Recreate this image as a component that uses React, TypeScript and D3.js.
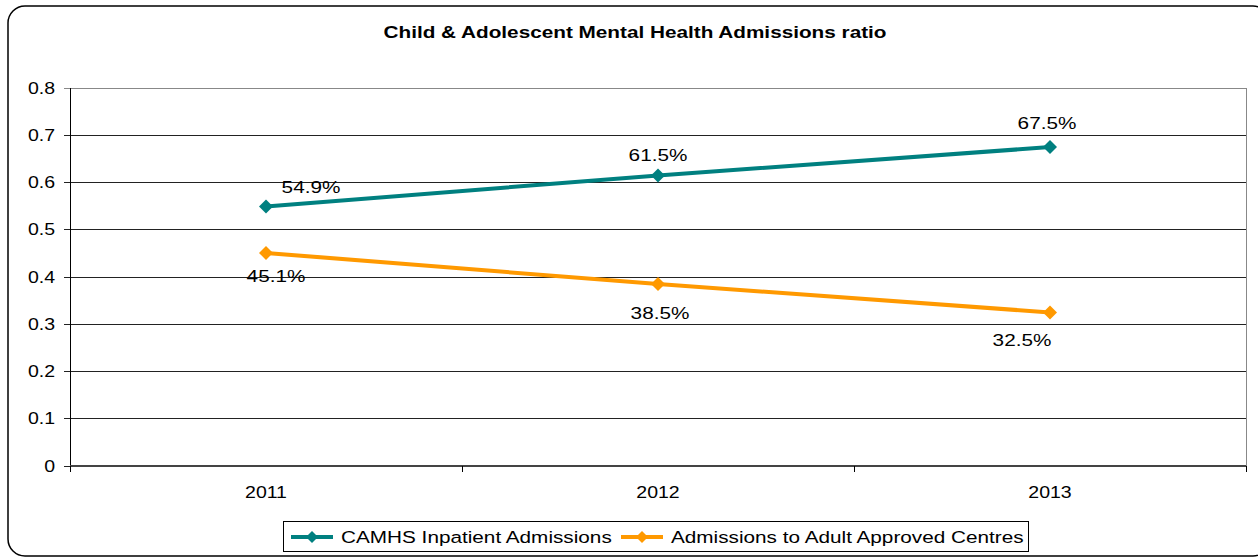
import React from "react";
import * as d3 from "d3";

const years = ["2011", "2012", "2013"];
const camhs = [0.549, 0.615, 0.675];
const adult = [0.451, 0.385, 0.325];
const yTicks = [0, 0.1, 0.2, 0.3, 0.4, 0.5, 0.6, 0.7, 0.8];
const seriesNames = ["CAMHS Inpatient Admissions", "Admissions to Adult Approved Centres"];
const title = "Child & Adolescent Mental Health Admissions ratio";

const W = 1258;
const H = 558;
const plot = { left: 70, right: 1246, top: 88, bottom: 466 };
const colors = ["#008080", "#FF9900"];
// label offsets relative to each point
const camhsLabelOff = [[45, -20], [0, -20], [-3, -24]];
const adultLabelOff = [[10, 23], [2, 29], [-28, 28]];
const SX = 1.22; // horizontal text stretch

type STProps = {
  x: number;
  y: number;
  size: number;
  anchor?: "start" | "middle" | "end";
  bold?: boolean;
  children: React.ReactNode;
};

function SText({ x, y, size, anchor = "start", bold = false, children }: STProps) {
  return (
    <g transform={`translate(${x},${y}) scale(${SX},1)`}>
      <text dy="0.35em" textAnchor={anchor} fontSize={size} fontWeight={bold ? "bold" : "normal"}>
        {children}
      </text>
    </g>
  );
}

export default function App() {
  const x = d3.scaleBand().domain(years).range([plot.left, plot.right]);
  const y = d3.scaleLinear().domain([0, 0.8]).range([plot.bottom, plot.top]);
  const cx = (d: string) => (x(d) ?? 0) + x.bandwidth() / 2;
  const line = d3
    .line<number>()
    .x((_, i) => cx(years[i]))
    .y((v) => y(v));
  const diamond = (px: number, py: number, r = 7) =>
    `M${px},${py - r}L${px + r},${py}L${px},${py + r}L${px - r},${py}Z`;
  const font = "Arial, 'Liberation Sans', sans-serif";
  const fmt = (v: number) => (v * 100).toFixed(1) + "%";
  const bounds = [...years.map((d) => x(d) ?? 0), plot.right];

  const series = [
    { values: camhs, off: camhsLabelOff },
    { values: adult, off: adultLabelOff },
  ];

  return (
    <svg
      width={W}
      height={H}
      style={{ position: "absolute", left: 0, top: 0, background: "#fff" }}
      fontFamily={font}
    >
      <rect x={8} y={6} width={1262} height={550} rx={17} ry={17} fill="#fff" stroke="#000" strokeWidth={1.5} />
      <SText x={635} y={32} size={17} anchor="middle" bold>
        {title}
      </SText>
      {/* grid */}
      {yTicks.map((t) => (
        <g key={t}>
          <line x1={plot.left - 6} x2={plot.right} y1={y(t)} y2={y(t)} stroke={t === 0.8 ? "#888" : "#222"} strokeWidth={1} shapeRendering="crispEdges" />
          <SText x={55} y={y(t)} size={16} anchor="end">
            {t === 0 ? "0" : d3.format(".1f")(t)}
          </SText>
        </g>
      ))}
      <line x1={plot.right} x2={plot.right} y1={plot.top} y2={plot.bottom + 6} stroke="#888" shapeRendering="crispEdges" />
      <line x1={plot.left} x2={plot.left} y1={plot.top} y2={plot.bottom + 6} stroke="#000" shapeRendering="crispEdges" />
      <line x1={plot.left} x2={plot.right} y1={plot.bottom} y2={plot.bottom} stroke="#444" strokeWidth={2} shapeRendering="crispEdges" />
      {bounds.map((b, i) => (
        <line key={i} x1={b} x2={b} y1={plot.bottom} y2={plot.bottom + 6} stroke="#000" shapeRendering="crispEdges" />
      ))}
      {years.map((d) => (
        <SText key={d} x={cx(d)} y={492} size={16} anchor="middle">
          {d}
        </SText>
      ))}
      {series.map((s, si) => (
        <g key={si}>
          <path d={line(s.values) ?? ""} fill="none" stroke={colors[si]} strokeWidth={4} />
          {s.values.map((v, i) => (
            <path key={i} d={diamond(cx(years[i]), y(v))} fill={colors[si]} />
          ))}
          {s.values.map((v, i) => (
            <SText key={"l" + i} x={cx(years[i]) + s.off[i][0]} y={y(v) + s.off[i][1]} size={17} anchor="middle">
              {fmt(v)}
            </SText>
          ))}
        </g>
      ))}
      {/* legend */}
      <rect x={283.5} y={521.5} width={745} height={30} fill="#fff" stroke="#000" />
      {seriesNames.map((n, i) => {
        const lx = i === 0 ? 291 : 621;
        return (
          <g key={n}>
            <line x1={lx} x2={lx + 42} y1={537} y2={537} stroke={colors[i]} strokeWidth={4} />
            <path d={diamond(lx + 21, 537, 6)} fill={colors[i]} />
            <SText x={lx + 50} y={537} size={17}>
              {n}
            </SText>
          </g>
        );
      })}
    </svg>
  );
}
